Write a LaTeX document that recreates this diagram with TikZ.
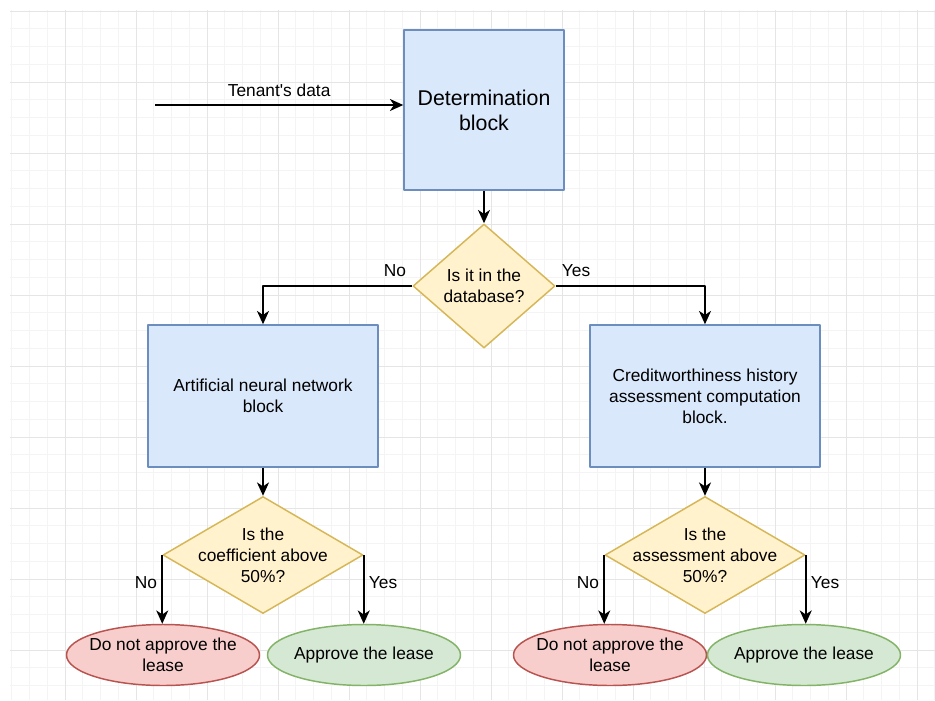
\documentclass[tikz,border=0pt]{standalone}
\usepackage{fontspec}
\setmainfont{Liberation Sans}
\usetikzlibrary{shapes.geometric,arrows.meta,positioning}
\definecolor{blockfill}{HTML}{DAE8FC}
\definecolor{blockline}{HTML}{6C8EBF}
\definecolor{askfill}{HTML}{FFF2CC}
\definecolor{askline}{HTML}{D6B656}
\definecolor{nofill}{HTML}{F8CECC}
\definecolor{noline}{HTML}{B85450}
\definecolor{yesfill}{HTML}{D5E8D4}
\definecolor{yesline}{HTML}{82B366}
\begin{document}
\begin{tikzpicture}[x=0.75pt, y=-0.75pt, line join=round,
    font=\fontsize{13}{15.75}\selectfont,
    block/.style={draw=blockline, fill=blockfill, line width=1.1pt, align=center,
      minimum width=172.5pt, minimum height=106.5pt},
    ask/.style={diamond, draw=askline, fill=askfill, line width=1.1pt, inner sep=0pt},
    verdict/.style={ellipse, draw=#1line, fill=#1fill, line width=1.1pt, inner sep=0pt,
      minimum width=144.75pt, minimum height=45.75pt},
    flow/.style={line width=1.2pt, -{Stealth[length=10pt, width=9pt, inset=3pt]}}]
    \useasboundingbox (0,0) rectangle (935,700);
    \fill[white] (0,0) rectangle (935,700);
    % grid
    \foreach \x in {11.75,29.5,...,935} \draw[gray!9, line width=0.75pt] (\x,10) -- (\x,700);
    \foreach \y in {11,28.75,...,700} \draw[gray!9, line width=0.75pt] (10,\y) -- (935,\y);
    \foreach \x in {65,136,...,935} \draw[gray!20, line width=0.75pt] (\x,10) -- (\x,700);
    \foreach \y in {11,82,...,700} \draw[gray!20, line width=0.75pt] (10,\y) -- (935,\y);

    \node[block, minimum width=120pt, minimum height=120pt, font=\fontsize{16}{18.75}\selectfont]
      (det) at (484,110) {Determination\\block};
    \coordinate (input) at (155,105);
    \node[ask, minimum width=106.5pt, minimum height=93pt,
      label={[align=center]center:Is it in the\\database?}] (q1) at (484,286) {};
    \node[block] (ann) at (263,396) {Artificial neural network\\block};
    \node[block] (credit) at (705,396) {Creditworthiness history\\assessment computation\\block.};
    \node[ask, minimum width=150pt, minimum height=87.75pt,
      label={[align=center]center:Is the\\coefficient above\\50\%?}] (q2) at (263,555) {};
    \node[ask, minimum width=150pt, minimum height=87.75pt,
      label={[align=center]center:Is the\\assessment above\\50\%?}] (q3) at (705,555) {};
    \node[verdict=no, label={[align=center]center:Do not approve the\\lease}] (noL) at (163,655) {};
    \node[verdict=yes, label={center:Approve the lease}] (yesL) at (364,655) {};
    \node[verdict=no, label={[align=center]center:Do not approve the\\lease}] (noR) at (610,655) {};
    \node[verdict=yes, label={center:Approve the lease}] (yesR) at (804,655) {};

    \draw[flow] (input) -- (input -| det.west) node[midway, above=2pt] {Tenant\textquotesingle s data};
    \draw[flow] (det) -- (q1);
    \draw[flow] (q1.west) node[above left=1pt, yshift=2pt] {No} -| (ann.north);
    \draw[flow] (q1.east) node[above right=1pt, yshift=2pt] {Yes} -| (credit.north);
    \draw[flow] (ann) -- (q2);
    \draw[flow] (credit) -- (q3);
    \draw[flow] (q2.west) -- (q2.west |- noL.north) node[pos=0.4, left] {No};
    \draw[flow] (q2.east) -- (q2.east |- yesL.north) node[pos=0.4, right] {Yes};
    \draw[flow] (q3.west) -- (q3.west |- noR.north) node[pos=0.4, left] {No};
    \draw[flow] (q3.east) -- (q3.east |- yesR.north) node[pos=0.4, right] {Yes};
\end{tikzpicture}
\end{document}
